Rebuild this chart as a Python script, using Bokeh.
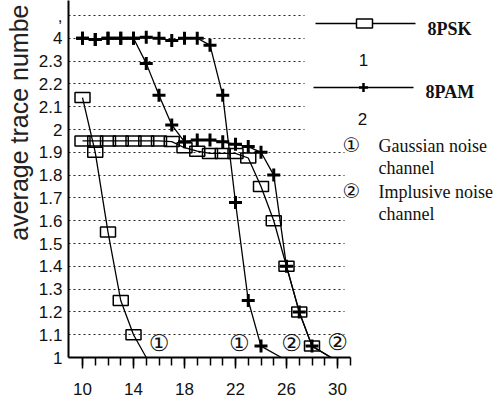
from bokeh.plotting import figure
from bokeh.models import Range1d, FixedTicker, CustomJSTickFormatter, BoxAnnotation, Title
from bokeh.core.properties import value
from bokeh.embed import file_html
from bokeh.resources import INLINE

# ---------------- data ----------------
PSK_GAUSS_X = [10, 11, 12, 13, 14, 15]
PSK_GAUSS_Y = [2.14, 1.90, 1.55, 1.25, 1.10, 1.00]

PSK_IMP_X = [10, 11, 12, 13, 14, 15, 16, 17, 18, 19, 20, 21, 22, 23, 24, 25, 26, 27, 28, 29.5]
PSK_IMP_Y = [1.95, 1.95, 1.95, 1.95, 1.95, 1.95, 1.95, 1.947, 1.92, 1.905, 1.895, 1.895,
             1.895, 1.875, 1.75, 1.60, 1.40, 1.20, 1.05, 1.00]

PAM_GAUSS_X = [10, 11, 12, 13, 14, 15, 16, 17, 18, 19, 20, 21, 22, 23, 24, 25.6]
PAM_GAUSS_Y = [2.40, 2.395, 2.40, 2.40, 2.40, 2.405, 2.40, 2.39, 2.40, 2.40,
               2.37, 2.15, 1.68, 1.25, 1.05, 1.00]

PAM_IMP_X = [10, 11, 12, 13, 14, 15, 16, 17, 18, 19, 20, 21, 22, 23, 24, 25, 26, 27, 28, 29.5]
PAM_IMP_Y = [2.40, 2.395, 2.40, 2.40, 2.40, 2.29, 2.15, 2.02, 1.946, 1.954, 1.954, 1.946,
             1.935, 1.925, 1.90, 1.80, 1.40, 1.20, 1.05, 1.00]

CURVE_TAGS_X = [16, 22.3, 26.4, 30.0]
CURVE_TAGS_Y = [1.065, 1.065, 1.065, 1.07]
CURVE_TAGS = ["\u2460", "\u2460", "\u2461", "\u2461"]

Y_TICKS = [1.0, 1.1, 1.2, 1.3, 1.4, 1.5, 1.6, 1.7, 1.8, 1.9, 2.0, 2.1, 2.2, 2.3, 2.4, 2.5]
Y_TICK_LABELS = ["1", "1.1", "1.2", "1.3", "1.4", "1.5", "1.6", "1.7", "1.8", "1.9",
                 "2", "2.1", "2.2", "2.3", "4", ","]
X_TICKS = [10, 14, 18, 22, 26, 30]
X_MINOR_TICKS = [10, 11, 12, 13, 14, 15, 16, 17, 18, 19, 20, 21, 22, 23, 24, 25, 26,
                 27, 28, 29, 30, 31]
X_AXIS_END = 31

Y_LABEL = "average trace numbe"
LEG_PSK = "8PSK"
LEG_PAM = "8PAM"
NOTE_1 = ["Gaussian noise", "channel"]
NOTE_2 = ["Implusive noise", "channel"]

# ---------------- layout (picture pixels; the figure starts at 0,0) ----------------
W, H = 500, 403
FRAME_LEFT = 68
FRAME_BOTTOM = 357
X10_PX = 82
PX_PER_X = 12.75
PX_PER_Y = 228.0


def px_x(px):
    return 10 + (px - X10_PX) / PX_PER_X


def px_y(py):
    return 1 + (FRAME_BOTTOM - py) / PX_PER_Y


x_start, x_end = px_x(FRAME_LEFT), px_x(W)
y_start, y_end = 1.0, px_y(0)

p = figure(width=W, height=H, x_range=Range1d(x_start, x_end), y_range=Range1d(y_start, y_end),
           output_backend="svg", toolbar_location=None,
           min_border_left=FRAME_LEFT, min_border_right=0, min_border_top=0,
           min_border_bottom=H - FRAME_BOTTOM)
p.outline_line_color = None
p.background_fill_color = "white"
p.border_fill_color = "white"

# grid
p.xgrid.visible = False
p.ygrid.ticker = FixedTicker(ticks=Y_TICKS)
p.ygrid.grid_line_color = "#222222"
p.ygrid.grid_line_dash = "2 3"
p.ygrid.grid_line_width = 1.1

# white masks where the scanned grid stops
p.add_layout(BoxAnnotation(left=px_x(304), bottom=px_y(142), fill_color="white", fill_alpha=1,
                           line_color=None, level="underlay"))
p.add_layout(BoxAnnotation(left=px_x(344), top=px_y(142), fill_color="white", fill_alpha=1,
                           line_color=None, level="underlay"))

# x axis
xa = p.xaxis[0]
xa.ticker = FixedTicker(ticks=X_TICKS, minor_ticks=X_MINOR_TICKS)
xa.bounds = (x_start, X_AXIS_END)
xa.axis_line_width = 2
xa.major_tick_in = 0
xa.major_tick_out = 11
xa.minor_tick_in = 0
xa.minor_tick_out = 8
xa.major_tick_line_width = 1.5
xa.minor_tick_line_width = 1.5
xa.major_label_standoff = 14
xa.major_label_text_font = "Liberation Sans"
xa.major_label_text_font_size = "17px"
xa.major_label_text_color = "#111111"

# y axis
ya = p.yaxis[0]
ya.ticker = FixedTicker(ticks=Y_TICKS, minor_ticks=[])
ya.formatter = CustomJSTickFormatter(args=dict(yt=Y_TICKS, yl=Y_TICK_LABELS), code="""
for (let i = 0; i < yt.length; i++) {
  if (Math.abs(yt[i] - tick) < 1e-6) return yl[i];
}
return String(tick);
""")
ya.axis_line_width = 2
ya.major_tick_in = 0
ya.major_tick_out = 0
ya.minor_tick_in = 0
ya.minor_tick_out = 0
ya.major_label_standoff = 6
ya.major_label_text_font = "Liberation Sans"
ya.major_label_text_font_size = "17px"
ya.major_label_text_color = "#111111"

p.add_layout(Title(text=Y_LABEL, align="right", offset=4, standoff=2, vertical_align="top",
                   text_font="Liberation Sans", text_font_style="normal",
                   text_font_size="25px", text_color="#222222"), "left")

# curves
LW = 1.3
for xs, ys in [(PSK_GAUSS_X, PSK_GAUSS_Y), (PSK_IMP_X, PSK_IMP_Y),
               (PAM_GAUSS_X, PAM_GAUSS_Y), (PAM_IMP_X, PAM_IMP_Y)]:
    p.line(xs, ys, line_color="black", line_width=LW)

for xs, ys in [(PSK_GAUSS_X, PSK_GAUSS_Y), (PSK_IMP_X, PSK_IMP_Y)]:
    p.rect(xs[:-1], ys[:-1], width=15, height=10, width_units="screen", height_units="screen",
           fill_color=None, line_color="black", line_width=1.5)

for xs, ys in [(PAM_GAUSS_X, PAM_GAUSS_Y), (PAM_IMP_X, PAM_IMP_Y)]:
    p.scatter(xs[:-1], ys[:-1], marker="cross", size=13, line_color="black", line_width=3)

p.text(CURVE_TAGS_X, CURVE_TAGS_Y, text=CURVE_TAGS, text_align="center", text_baseline="middle",
       text_font=value("DejaVu Sans"), text_font_size="23px", text_color="#111111")

# legend (drawn by hand at its place in the right margin)
p.line([px_x(315), px_x(415)], [px_y(23), px_y(23)], line_color="black", line_width=LW)
p.rect([px_x(364)], [px_y(23)], width=16, height=9, width_units="screen", height_units="screen",
       fill_color="white", line_color="black", line_width=1.5)
p.line([px_x(313), px_x(413)], [px_y(87), px_y(87)], line_color="black", line_width=LW)
p.scatter([px_x(363)], [px_y(87)], marker="cross", size=9, line_color="black", line_width=2.5)

p.text([px_x(427), px_x(425)], [px_y(28), px_y(91)], text=[LEG_PSK, LEG_PAM],
       text_align="left", text_baseline="middle", text_font=value("Liberation Serif"),
       text_font_style="bold", text_font_size="18px", text_color="#111111")
p.text([px_x(363), px_x(362)], [px_y(59), px_y(118)], text=["1", "2"],
       text_align="center", text_baseline="middle", text_font=value("Liberation Sans"),
       text_font_size="17px", text_color="#111111")
p.text([px_x(351), px_x(351)], [px_y(144), px_y(190)], text=["\u2460", "\u2461"],
       text_align="center", text_baseline="middle", text_font=value("DejaVu Sans"),
       text_font_size="20px", text_color="#111111")
p.text([px_x(378)] * 4, [px_y(145), px_y(167), px_y(191), px_y(213)],
       text=[NOTE_1[0], NOTE_1[1], NOTE_2[0], NOTE_2[1]],
       text_align="left", text_baseline="middle", text_font=value("Liberation Serif"),
       text_font_size="18px", text_color="#111111")

open("out.html", "w").write(file_html(p, INLINE))
